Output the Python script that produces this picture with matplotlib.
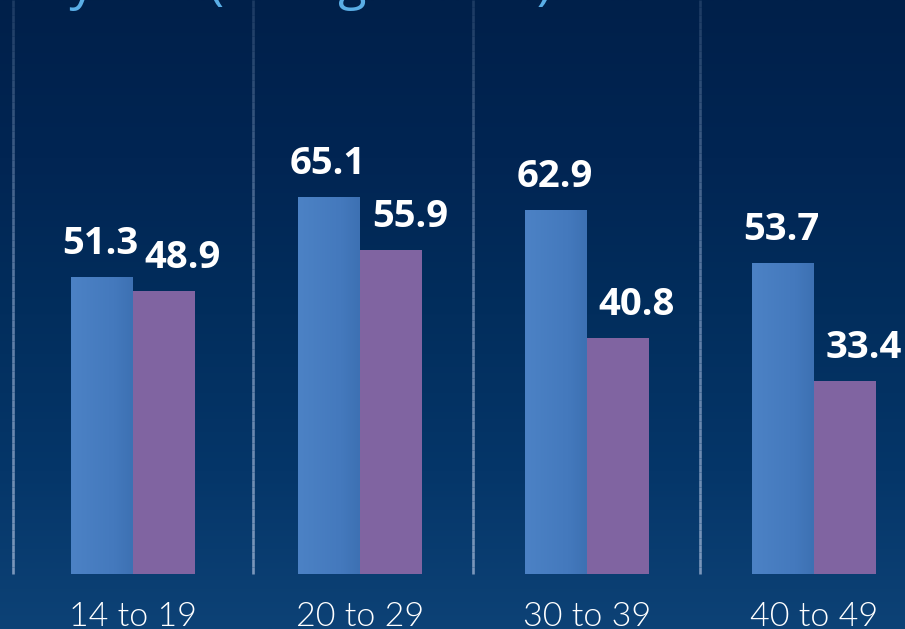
import numpy as np
import matplotlib.pyplot as plt
from matplotlib.colors import LinearSegmentedColormap
from matplotlib.collections import LineCollection
from matplotlib.font_manager import FontProperties

# Data
age_groups = ["14 to 19", "20 to 29", "30 to 39", "40 to 49"]
series_a = [51.3, 65.1, 62.9, 53.7]   # blue bars
series_b = [48.9, 55.9, 40.8, 33.4]   # purple bars
title_text = "Weekly use (rating scores)"

# Canvas
W, H, DPI = 905, 629, 100
fig = plt.figure(figsize=(W / DPI, H / DPI), dpi=DPI)
ax = fig.add_axes([0, 0, 1, 1])
XLIM = (-0.586, 3.401)
YLIM = (-9.5, 99.1)
ax.axis("off")

# Navy vertical gradient background
bg_cmap = LinearSegmentedColormap.from_list(
    "bg", [(0.0, "#00204a"), (0.25, "#012553"), (0.5, "#022e5d"),
           (0.75, "#053669"), (1.0, "#0d4276")])
grad = np.linspace(0, 1, 256).reshape(-1, 1)
ax.imshow(grad, cmap=bg_cmap, extent=[XLIM[0], XLIM[1], YLIM[0], YLIM[1]],
          aspect="auto", zorder=0, interpolation="bilinear")

# Divider lines between age groups, fading towards the top
dividers = [-0.53, 0.53, 1.5, 2.5]
line_cmap = LinearSegmentedColormap.from_list(
    "ln", [(0.0, "#7b97bb"), (0.5, "#5a79a2"), (1.0, "#1d3b63")])
ys = np.linspace(0, YLIM[1], 80)
segs, cols = [], []
for xd in dividers:
    for i in range(len(ys) - 1):
        segs.append([(xd, ys[i]), (xd, ys[i + 1])])
        cols.append(line_cmap(i / (len(ys) - 2)))
ax.add_collection(LineCollection(segs, colors=cols, linewidths=1.9,
                                 zorder=1, capstyle="butt"))

# Bars
x = np.arange(len(age_groups))
w = 0.273
bars_a = ax.bar(x - w / 2, series_a, w, color="#4679be", zorder=2, linewidth=0)
bars_b = ax.bar(x + w / 2, series_b, w, color="#8064a1", zorder=2, linewidth=0)

# Soft horizontal shading across the blue bars
blue_cmap = LinearSegmentedColormap.from_list(
    "bl", [(0.0, "#4c82c5"), (0.7, "#4479bd"), (1.0, "#3d71b3")])
hgrad = np.linspace(0, 1, 64).reshape(1, -1)
for p in bars_a:
    im = ax.imshow(hgrad, cmap=blue_cmap,
                   extent=[p.get_x(), p.get_x() + p.get_width(), 0, p.get_height()],
                   aspect="auto", zorder=2.1, interpolation="bilinear")
    im.set_clip_path(p)

# Value labels
label_font = dict(fontsize=27.5, fontweight="bold", color="white",
                  family=["Open Sans", "DejaVu Sans"], zorder=3)
for xi, v in zip(x, series_a):
    ax.annotate(f"{v:.1f}", (xi - w / 2, v), xytext=(-1, 16.5),
                textcoords="offset points", ha="center", va="baseline",
                **label_font)
for xi, v in zip(x, series_b):
    ax.annotate(f"{v:.1f}", (xi + w / 2, v), xytext=(13.7, 16.5),
                textcoords="offset points", ha="center", va="baseline",
                **label_font)

# Category labels
for xi, lab in zip(x, age_groups):
    ax.text(xi, -8.98, lab, ha="center", va="baseline", fontsize=24.5,
            fontweight=300, color="white",
            family=["Lato", "DejaVu Sans"], zorder=3)

# Title, running off the top edge of the canvas
TS = 37.5
tfp = FontProperties(family=["Open Sans", "DejaVu Sans"], size=TS)
renderer = fig.canvas.get_renderer()
w_pre, _, _ = renderer.get_text_width_height_descent("Weekl", tfp, ismath=False)
fig.text((69 - w_pre) / W, 1 + 1 / H, title_text, ha="left", va="baseline",
         fontproperties=tfp, color="#5aaee6")

ax.set_xlim(*XLIM)
ax.set_ylim(*YLIM)
fig.savefig("out.png", dpi=DPI)
